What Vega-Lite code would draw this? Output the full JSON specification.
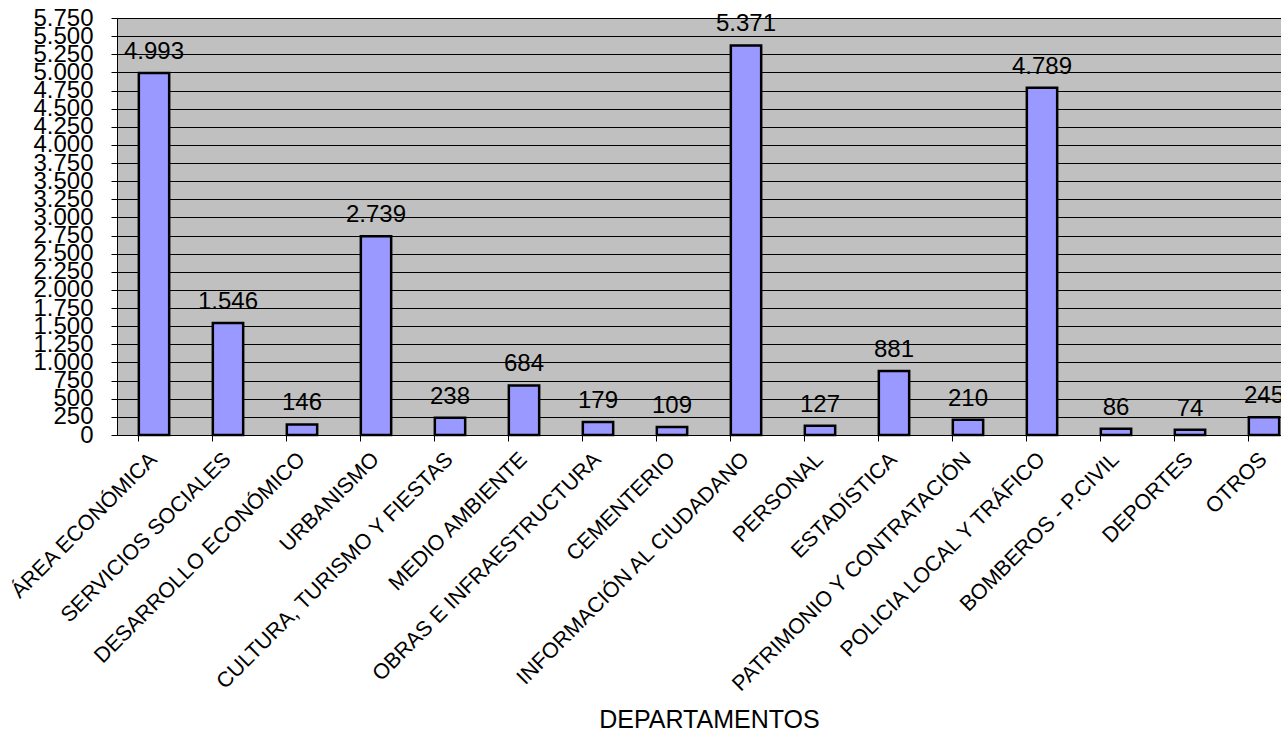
{
  "$schema": "https://vega.github.io/schema/vega-lite/v6.json",
  "width": 1184,
  "height": 417,
  "autosize": "none",
  "padding": {"left": 117, "top": 18, "right": 0, "bottom": 296},
  "background": "white",
  "config": {
    "locale": {"number": {"decimal": ",", "thousands": ".", "grouping": [3], "currency": ["", " €"]}},
    "view": {"fill": "#C0C0C0", "stroke": null},
    "font": "Liberation Sans"
  },
  "data": {"values": [
    {"dep": "ÁREA ECONÓMICA", "v": 4993},
    {"dep": "SERVICIOS SOCIALES", "v": 1546},
    {"dep": "DESARROLLO ECONÓMICO", "v": 146},
    {"dep": "URBANISMO", "v": 2739},
    {"dep": "CULTURA, TURISMO Y FIESTAS", "v": 238},
    {"dep": "MEDIO AMBIENTE", "v": 684},
    {"dep": "OBRAS E INFRAESTRUCTURA", "v": 179},
    {"dep": "CEMENTERIO", "v": 109},
    {"dep": "INFORMACIÓN AL CIUDADANO", "v": 5371},
    {"dep": "PERSONAL", "v": 127},
    {"dep": "ESTADÍSTICA", "v": 881},
    {"dep": "PATRIMONIO Y CONTRATACIÓN", "v": 210},
    {"dep": "POLICIA LOCAL Y TRÁFICO", "v": 4789},
    {"dep": "BOMBEROS - P.CIVIL", "v": 86},
    {"dep": "DEPORTES", "v": 74},
    {"dep": "OTROS", "v": 245}
  ]},
  "encoding": {
    "x": {
      "field": "dep", "type": "nominal", "sort": null,
      "scale": {"paddingInner": 0.59, "paddingOuter": 0.295},
      "axis": {
        "title": "DEPARTAMENTOS", "titleFont": "Liberation Sans", "titleFontSize": 25, "titleFontWeight": "normal", "titleColor": "black", "titleBaseline": "alphabetic", "titleY": 292, "titleX": 592, "titleAlign": "center",
        "labelAngle": -45, "labelAlign": "right", "labelBaseline": "middle", "labelFontSize": 21.5, "labelColor": "black", "labelPadding": 15, "labelOverlap": false, "labelLimit": 500,
        "bandPosition": 0, "ticks": true, "tickColor": "black", "tickSize": 6, "domainColor": "black", "grid": false
      }
    },
    "y": {
      "field": "v", "type": "quantitative",
      "scale": {"domain": [0, 5750], "nice": false},
      "axis": {
        "title": null, "values": [0,250,500,750,1000,1250,1500,1750,2000,2250,2500,2750,3000,3250,3500,3750,4000,4250,4500,4750,5000,5250,5500,5750],
        "format": ",d", "labelFontSize": 24, "labelColor": "black", "labelPadding": 18, "labelOverlap": false, "labelFlush": false,
        "tickColor": "black", "tickSize": 6, "domainColor": "black", "gridColor": "black", "gridOpacity": 1, "gridWidth": 1
      }
    }
  },
  "layer": [
    {"mark": {"type": "bar", "fill": "#9999FF", "stroke": "black", "strokeWidth": 2.5}, "encoding": {"y": {"field": "v", "type": "quantitative"}}},
    {"mark": {"type": "text", "baseline": "alphabetic", "dy": -14, "fontSize": 24, "color": "black"}, "encoding": {"text": {"field": "v", "type": "quantitative", "format": ",d"}}}
  ]
}
